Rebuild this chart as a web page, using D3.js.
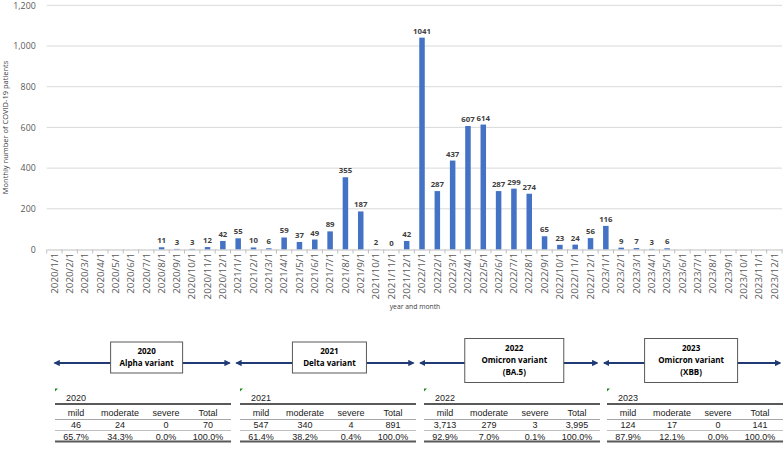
<!DOCTYPE html>
<html>
<head>
<meta charset="utf-8">
<script src="https://cdn.jsdelivr.net/npm/d3@7"></script>
<style>
  body { margin: 0; background: #fff; }
  svg { display: block; }
</style>
</head>
<body>
<svg id="chart" width="784" height="451"></svg>
<script>
// monthly counts, null where the chart shows no label
const months = [
  "2020/1/1","2020/2/1","2020/3/1","2020/4/1","2020/5/1","2020/6/1","2020/7/1","2020/8/1","2020/9/1","2020/10/1","2020/11/1","2020/12/1",
  "2021/1/1","2021/2/1","2021/3/1","2021/4/1","2021/5/1","2021/6/1","2021/7/1","2021/8/1","2021/9/1","2021/10/1","2021/11/1","2021/12/1",
  "2022/1/1","2022/2/1","2022/3/1","2022/4/1","2022/5/1","2022/6/1","2022/7/1","2022/8/1","2022/9/1","2022/10/1","2022/11/1","2022/12/1",
  "2023/1/1","2023/2/1","2023/3/1","2023/4/1","2023/5/1","2023/6/1","2023/7/1","2023/8/1","2023/9/1","2023/10/1","2023/11/1","2023/12/1"
];
const patients = [
  null, null, null, null, null, null, null, 11, 3, 3, 12, 42,
  55, 10, 6, 59, 37, 49, 89, 355, 187, 2, 0, 42,
  1041, 287, 437, 607, 614, 287, 299, 274, 65, 23, 24, 56,
  116, 9, 7, 3, 6, null, null, null, null, null, null, null
];
const yTicks = [0, 200, 400, 600, 800, 1000, 1200];

// variant periods
const years = ["2020", "2021", "2022", "2023"];
const variantText = [
  ["2020", "Alpha variant"],
  ["2021", "Delta variant"],
  ["2022", "Omicron variant", "(BA.5)"],
  ["2023", "Omicron variant", "(XBB)"]
];

// severity tables
const severityHeads = ["mild", "moderate", "severe", "Total"];
const countRows = [
  ["46", "24", "0", "70"],
  ["547", "340", "4", "891"],
  ["3,713", "279", "3", "3,995"],
  ["124", "17", "0", "141"]
];
const pctRows = [
  ["65.7%", "34.3%", "0.0%", "100.0%"],
  ["61.4%", "38.2%", "0.4%", "100.0%"],
  ["92.9%", "7.0%", "0.1%", "100.0%"],
  ["87.9%", "12.1%", "0.0%", "100.0%"]
];

const svg = d3.select("#chart");
const font = "'Open Sans', 'Noto Sans', sans-serif";
const plot = {left: 46.7, right: 782, top: 5.3, bottom: 249.5};

let x = d3.scaleBand().domain(months).range([plot.left, plot.right]).paddingInner(0.64).paddingOuter(0.32);
let y = d3.scaleLinear().domain([0, 1200]).range([plot.bottom, plot.top]);
let band = d3.scaleBand().domain(months).range([plot.left, plot.right]);

// gridlines
svg.append("g")
  .selectAll("line")
  .data(yTicks.slice(1))
  .enter().append("line")
  .attr("x1", plot.left).attr("x2", plot.right)
  .attr("y1", d => y(d)).attr("y2", d => y(d))
  .attr("stroke", "#d9d9d9").attr("stroke-width", 1);

// y axis labels
let yAxis = svg.append("g")
  .attr("transform", "translate(" + (plot.left - 8) + ",0)")
  .call(d3.axisLeft(y).tickValues(yTicks).tickSize(0).tickFormat(d3.format(",")));
yAxis.select(".domain").remove();
yAxis.selectAll("text")
  .attr("font-family", font).attr("font-size", 8.8).attr("fill", "#595959");

// bars
svg.append("g")
  .selectAll("rect")
  .data(months.map((m, i) => ({m: m, v: patients[i]})).filter(d => d.v !== null))
  .enter().append("rect")
  .attr("x", d => x(d.m))
  .attr("width", x.bandwidth())
  .attr("y", d => y(d.v))
  .attr("height", d => y(0) - y(d.v))
  .attr("fill", "#4472C4");

// bar labels
svg.append("g")
  .selectAll("text")
  .data(months.map((m, i) => ({m: m, v: patients[i]})).filter(d => d.v !== null))
  .enter().append("text")
  .attr("x", d => band(d.m) + band.bandwidth() / 2)
  .attr("y", d => y(d.v) - 4)
  .attr("text-anchor", "middle")
  .attr("font-family", font).attr("font-size", 7.8).attr("font-weight", "bold")
  .attr("fill", "#404040")
  .text(d => d.v);

// x axis
let xAxis = svg.append("g")
  .attr("transform", "translate(0," + plot.bottom + ")")
  .call(d3.axisBottom(band).tickSize(0).tickPadding(0));
xAxis.select(".domain").attr("stroke", "#bfbfbf");
xAxis.selectAll("text")
  .attr("font-family", font).attr("font-size", 9.8).attr("fill", "#595959")
  .attr("text-anchor", "end")
  .attr("dy", "0.33em")
  .attr("transform", "translate(0,3.5) rotate(-90)")
  .attr("x", 0).attr("y", 0);
// category separators
svg.append("g")
  .selectAll("line")
  .data(months.concat(["end"]))
  .enter().append("line")
  .attr("x1", (d, i) => plot.left + i * band.step())
  .attr("x2", (d, i) => plot.left + i * band.step())
  .attr("y1", plot.bottom).attr("y2", plot.bottom + 4)
  .attr("stroke", "#bfbfbf");

// axis titles
svg.append("text")
  .attr("transform", "translate(8," + ((plot.top + plot.bottom) / 2) + ") rotate(-90)")
  .attr("text-anchor", "middle")
  .attr("font-family", font).attr("font-size", 7.5).attr("fill", "#404040")
  .text("Monthly number of COVID-19 patients");
svg.append("text")
  .attr("x", 415).attr("y", 309)
  .attr("text-anchor", "middle")
  .attr("font-family", font).attr("font-size", 6.8).attr("fill", "#404040")
  .text("year and month");

// timeline arrows
const navy = "#1F3A75";
let defs = svg.append("defs");
defs.append("marker")
  .attr("id", "head")
  .attr("viewBox", "0 0 10 10").attr("refX", 8).attr("refY", 5)
  .attr("markerWidth", 3.2).attr("markerHeight", 3.2)
  .attr("orient", "auto-start-reverse")
  .append("path").attr("d", "M0,0 L10,5 L0,10 z").attr("fill", navy);

const yearStart = yr => band(yr + "/1/1");
const yearEnd = yr => band(yr + "/12/1") + band.step();
const arrowY = 363;
const boxShift = [8, 7, 8, 1];
const boxW = [72, 74, 99, 93];

years.forEach((yr, i) => {
  let x0 = yearStart(yr) + (i === 0 ? 8 : 6), x1 = yearEnd(yr) - (i === 3 ? 2 : 1);
  svg.append("line")
    .attr("x1", x0).attr("x2", x1)
    .attr("y1", arrowY).attr("y2", arrowY)
    .attr("stroke", navy).attr("stroke-width", 2)
    .attr("marker-start", "url(#head)").attr("marker-end", "url(#head)");

  let cx = (yearStart(yr) + yearEnd(yr)) / 2 + boxShift[i];
  let lines = variantText[i];
  let h = lines.length === 2 ? 31 : 44;
  let top = (lines.length === 2 ? 357.5 : 360.5) - h / 2;
  svg.append("rect")
    .attr("x", cx - boxW[i] / 2).attr("y", top)
    .attr("width", boxW[i]).attr("height", h)
    .attr("fill", "#fff").attr("stroke", "#595959").attr("stroke-width", 1);
  svg.append("g").selectAll("text")
    .data(lines)
    .enter().append("text")
    .attr("x", cx)
    .attr("y", (d, j) => top + 12 + j * 12.3)
    .attr("text-anchor", "middle")
    .attr("font-family", font).attr("font-size", 8).attr("font-weight", "bold")
    .attr("fill", "#000")
    .text(d => d);
});

// tables
const tableLeft = [55, 240, 424, 607];
const tableW = 176;
const colX = [21, 65, 111, 153];
const tFont = "'Liberation Sans', Arial, sans-serif";

years.forEach((yr, i) => {
  let g = svg.append("g").attr("transform", "translate(" + tableLeft[i] + ",0)");
  g.append("path").attr("d", "M0,388.5 L3,388.5 L0,391.5 z").attr("fill", "#1a8a1a");
  g.append("text")
    .attr("x", 11).attr("y", 400.5)
    .attr("font-family", tFont).attr("font-size", 9).attr("fill", "#222")
    .text(yr);
  [[404, 1.8, "#595959"], [419.5, 1, "#a6a6a6"], [430.5, 1, "#bfbfbf"], [441.5, 1.8, "#595959"]].forEach(l => {
    g.append("line")
      .attr("x1", 0).attr("x2", tableW)
      .attr("y1", l[0]).attr("y2", l[0])
      .attr("stroke", l[2]).attr("stroke-width", l[1]);
  });
  [severityHeads, countRows[i], pctRows[i]].forEach((row, r) => {
    g.append("g").selectAll("text")
      .data(row)
      .enter().append("text")
      .attr("x", (d, c) => colX[c])
      .attr("y", [416, 428, 439.5][r])
      .attr("text-anchor", "middle")
      .attr("font-family", tFont).attr("font-size", 9).attr("fill", "#222")
      .text(d => d);
  });
});
</script>
</body>
</html>
